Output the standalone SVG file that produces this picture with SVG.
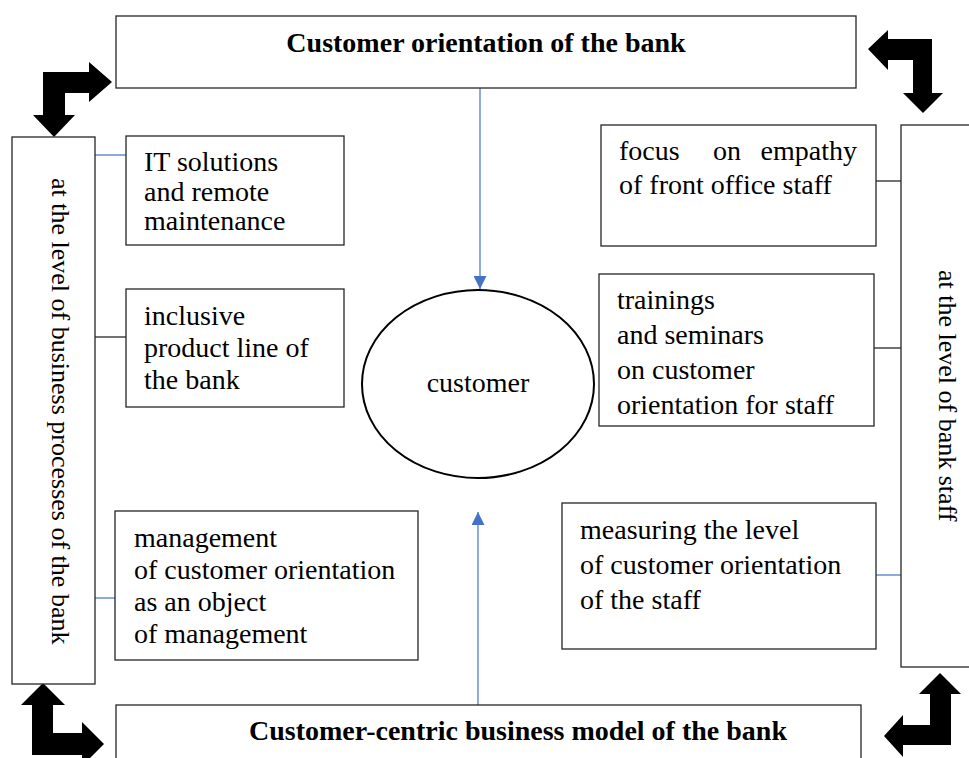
<svg xmlns="http://www.w3.org/2000/svg" width="969" height="758" viewBox="0 0 969 758">
  <defs>
    <style>
      .box { fill: #ffffff; stroke: #262626; stroke-width: 1.3; }
      .txt { font-family: "Liberation Serif", "Times New Roman", serif; font-size: 28px; fill: #000; }
      .title { font-family: "Liberation Serif", "Times New Roman", serif; font-size: 28px; font-weight: bold; fill: #000; }
      .vtxt { font-family: "Liberation Serif", "Times New Roman", serif; font-size: 26px; fill: #000; }
      .link-blue { stroke: #4472C4; stroke-width: 1.2; fill: none; }
      .link-dark { stroke: #262626; stroke-width: 1.3; fill: none; }
      .bend { fill: #000; }
    </style>
    <marker id="tri" viewBox="0 0 10 10" refX="10" refY="5" markerWidth="13" markerHeight="13" markerUnits="userSpaceOnUse" orient="auto">
      <path d="M0,0 L10,5 L0,10 Z" fill="#4472C4"/>
    </marker>
  </defs>

  <rect width="969" height="758" fill="#ffffff"/>

  <!-- connectors -->
  <g id="connectors">
    <line class="link-blue" x1="480" y1="88" x2="480" y2="289" marker-end="url(#tri)"/>
    <line class="link-blue" x1="478" y1="705" x2="478" y2="512" marker-end="url(#tri)"/>
    <line class="link-blue" x1="95" y1="155" x2="126" y2="155"/>
    <line class="link-dark" x1="95" y1="337" x2="126" y2="337"/>
    <line class="link-blue" x1="95" y1="598" x2="116" y2="598"/>
    <line class="link-dark" x1="876" y1="181" x2="901" y2="181"/>
    <line class="link-dark" x1="874" y1="348" x2="901" y2="348"/>
    <line class="link-blue" x1="876" y1="575" x2="901" y2="575"/>
  </g>

  <!-- bent block arrows in the corners -->
  <g id="corner-arrows">
    <polygon class="bend" points="43,72 89,72 89,62 112,82 89,102 89,93 65,93 65,115 75,115 54,137 33,115 43,115"/>
    <polygon class="bend" points="868,49 888,30 888,39 932,39 932,93 943,93 923,113 903,93 913,93 913,60 888,60 888,70"/>
    <polygon class="bend" points="43,683 65,705 53,705 53,733 82,733 82,722 104,744 82,766 82,755 32,755 32,705 21,705"/>
    <polygon class="bend" points="940,673 961,694 951,694 951,745 903,745 903,757 884,736 903,715 903,725 930,725 930,694 919,694"/>
  </g>

  <g id="top-title">
    <rect class="box" x="116" y="16" width="740" height="72"/>
    <text class="title" x="486" y="52" text-anchor="middle">Customer orientation of the bank</text>
  </g>

  <g id="bottom-title">
    <rect class="box" x="116" y="705" width="745" height="70"/>
    <text class="title" x="518" y="740" text-anchor="middle">Customer-centric business model of the bank</text>
  </g>

  <g id="business-level">
    <rect class="box" x="12" y="137" width="83" height="547"/>
    <text class="vtxt" transform="translate(52,178) rotate(90)">at the level of business processes of the bank</text>
  </g>

  <g id="staff-level">
    <rect class="box" x="901" y="125" width="80" height="542"/>
    <text class="vtxt" transform="translate(939,270) rotate(90)">at the level of bank staff</text>
  </g>

  <g id="customer">
    <ellipse cx="478" cy="384" rx="116" ry="94" fill="#ffffff" stroke="#000" stroke-width="2"/>
    <text class="txt" x="478" y="392" text-anchor="middle">customer</text>
  </g>

  <g id="it-solutions">
    <rect class="box" x="126" y="136" width="218" height="109"/>
    <text class="txt" x="144" y="171">IT solutions</text>
    <text class="txt" x="144" y="201">and remote</text>
    <text class="txt" x="144" y="230">maintenance</text>
  </g>

  <g id="product-line">
    <rect class="box" x="126" y="289" width="218" height="118"/>
    <text class="txt" x="144" y="325">inclusive</text>
    <text class="txt" x="144" y="357">product line of</text>
    <text class="txt" x="144" y="389">the bank</text>
  </g>

  <g id="management">
    <rect class="box" x="115" y="511" width="303" height="149"/>
    <text class="txt" x="134" y="547">management</text>
    <text class="txt" x="134" y="579">of customer orientation</text>
    <text class="txt" x="134" y="611">as an object</text>
    <text class="txt" x="134" y="643">of management</text>
  </g>

  <g id="empathy">
    <rect class="box" x="601" y="125" width="275" height="121"/>
    <text class="txt" x="619" y="160">focus</text>
    <text class="txt" x="727" y="160" text-anchor="middle">on</text>
    <text class="txt" x="857" y="160" text-anchor="end">empathy</text>
    <text class="txt" x="619" y="194">of front office staff</text>
  </g>

  <g id="trainings">
    <rect class="box" x="599" y="274" width="275" height="152"/>
    <text class="txt" x="617" y="309">trainings</text>
    <text class="txt" x="617" y="344">and seminars</text>
    <text class="txt" x="617" y="379">on customer</text>
    <text class="txt" x="617" y="414">orientation for staff</text>
  </g>

  <g id="measuring">
    <rect class="box" x="562" y="503" width="314" height="146"/>
    <text class="txt" x="580" y="539">measuring the level</text>
    <text class="txt" x="580" y="574">of customer orientation</text>
    <text class="txt" x="580" y="609">of the staff</text>
  </g>
</svg>
